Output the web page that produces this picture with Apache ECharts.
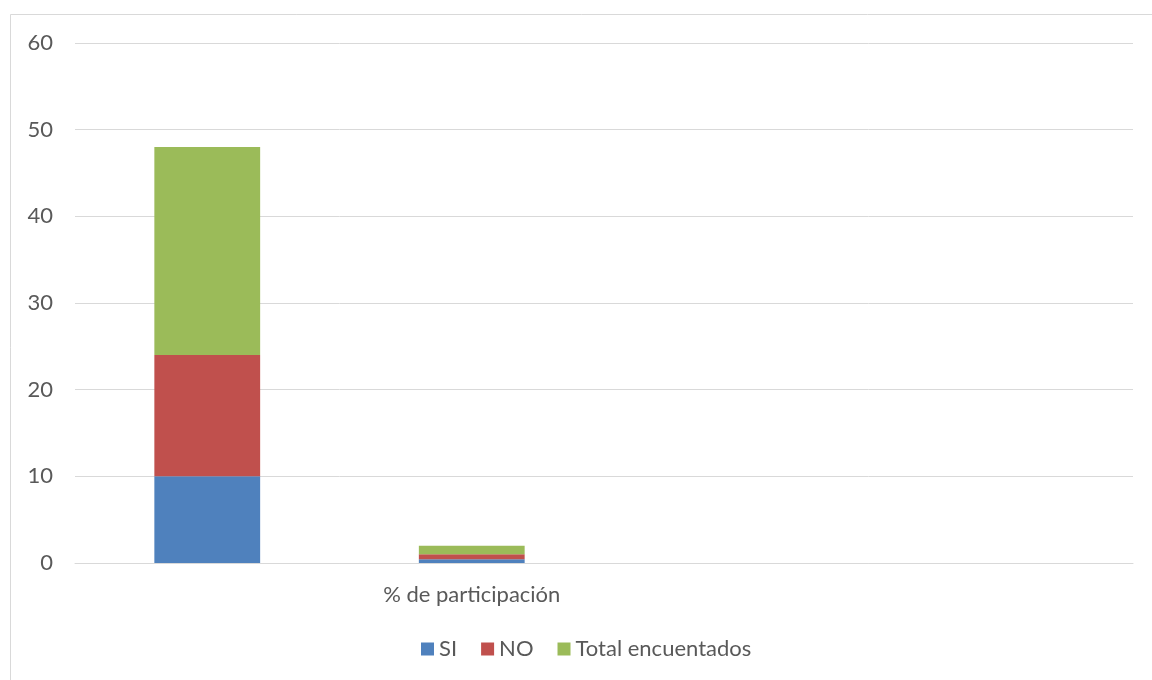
<!DOCTYPE html>
<html>
<head>
<meta charset="utf-8">
<script src="https://cdn.jsdelivr.net/npm/echarts@6/dist/echarts.min.js"></script>
<style>
html,body{margin:0;padding:0;background:#fff;}
#c{width:1152px;height:680px;}
</style>
</head>
<body>
<div id="c"></div>
<script>
const categories = ['', '% de participación', ' ', '  '];
const siValues = [10, 0.42, null, null];
const noValues = [14, 0.58, null, null];
const totalValues = [24, 1, null, null];
const yTicks = { min: 0, max: 60, interval: 10 };

const font = 'Lato, "Open Sans", sans-serif';
const textColor = '#595959';

const chart = echarts.init(document.getElementById('c'), null, { renderer: 'canvas' });
chart.setOption({
  animation: false,
  backgroundColor: '#ffffff',
  graphic: [{
    type: 'rect',
    shape: { x: 10.5, y: 14.5, width: 1300, height: 800 },
    style: { fill: 'none', stroke: '#D9D9D9', lineWidth: 1 },
    silent: true,
    z: -10
  }],
  grid: { left: 75, right: 19, top: 43, bottom: 117, containLabel: false },
  legend: {
    top: 633,
    left: 416,
    itemWidth: 13,
    itemHeight: 13,
    itemGap: 24,
    icon: 'rect',
    textStyle: { color: textColor, fontFamily: font, fontSize: 22 },
    data: ['SI', 'NO', 'Total encuentados']
  },
  xAxis: {
    type: 'category',
    data: categories,
    axisLine: { show: true, lineStyle: { color: '#D9D9D9', width: 1 } },
    axisTick: { show: false },
    axisLabel: { color: textColor, fontFamily: font, fontSize: 22, margin: 21, interval: 0 },
    splitLine: { show: false }
  },
  yAxis: {
    type: 'value',
    min: yTicks.min,
    max: yTicks.max,
    interval: yTicks.interval,
    axisLine: { show: false },
    axisTick: { show: false },
    axisLabel: { color: textColor, fontFamily: font, fontSize: 22, margin: 22 },
    splitLine: { lineStyle: { color: '#D9D9D9', width: 1 } }
  },
  series: [
    { name: 'SI', type: 'bar', stack: 'a', barWidth: '40%', data: siValues, itemStyle: { color: '#4F81BD' } },
    { name: 'NO', type: 'bar', stack: 'a', barWidth: '40%', data: noValues, itemStyle: { color: '#C0504D' } },
    { name: 'Total encuentados', type: 'bar', stack: 'a', barWidth: '40%', data: totalValues, itemStyle: { color: '#9BBB59' } }
  ]
});
</script>
</body>
</html>
